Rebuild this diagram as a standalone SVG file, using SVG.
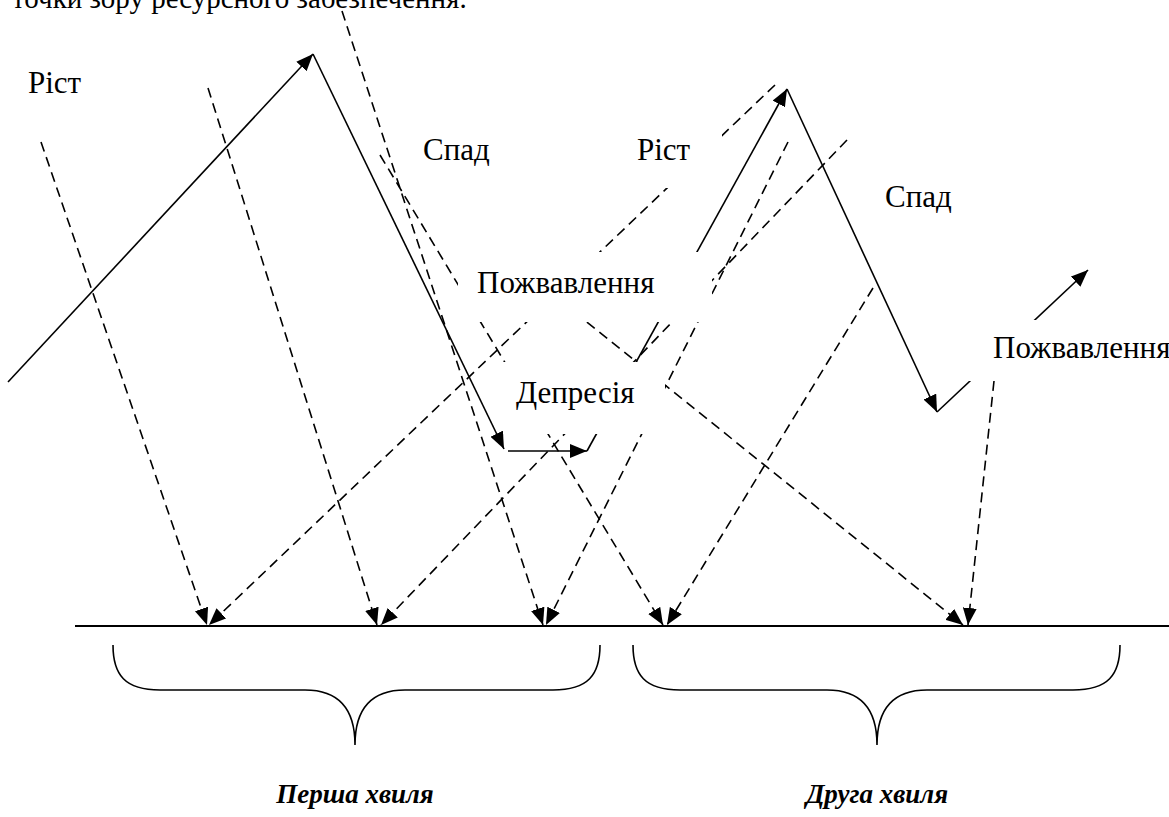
<svg xmlns="http://www.w3.org/2000/svg" width="1169" height="817" viewBox="0 0 1169 817">
<defs>
<style>
.t{font-family:"Liberation Serif","Times New Roman","DejaVu Serif",serif;font-size:31px;fill:#000}
.h{font-family:"Liberation Serif","Times New Roman","DejaVu Serif",serif;font-size:29px;fill:#000}
.b{font-family:"Liberation Serif","Times New Roman","DejaVu Serif",serif;font-size:27px;font-weight:bold;font-style:italic;fill:#000}
.s{fill:none;stroke:#000;stroke-width:1.6}
.d{fill:none;stroke:#000;stroke-width:1.6;stroke-dasharray:10 6}
.ax{fill:none;stroke:#000;stroke-width:2.2}
</style>
<marker id="ah" markerUnits="userSpaceOnUse" markerWidth="18" markerHeight="14" refX="17" refY="7" orient="auto">
<path d="M0,0 L17,7 L0,14 z" fill="#000" stroke="none"/>
</marker>
<mask id="m" maskUnits="userSpaceOnUse" x="0" y="0" width="1169" height="817">
<rect x="0" y="0" width="1169" height="817" fill="#fff"/>
<rect x="625" y="118" width="97" height="70" fill="#000"/>
<rect x="458" y="252" width="254" height="70" fill="#000"/>
<rect x="503" y="362" width="162" height="72" fill="#000"/>
<rect x="962" y="320" width="207" height="61" fill="#000"/>
</mask>
</defs>
<rect width="1169" height="817" fill="#fff"/>
<text class="h" x="12" y="8">точки зору ресурсного забезпечення.</text>
<g id="connectors" mask="url(#m)">
<path class="s" d="M8,382 L313,54" marker-end="url(#ah)"/>
<path class="s" d="M313,54 L504,449" marker-end="url(#ah)"/>
<path class="s" d="M508,451 L587,451" marker-end="url(#ah)"/>
<path class="s" d="M587,451 L787,89" marker-end="url(#ah)"/>
<path class="s" d="M787,89 L937,412" marker-end="url(#ah)"/>
<path class="s" d="M937,412 L1088,270" marker-end="url(#ah)"/>
<path class="d" d="M41,142 L207,625" marker-end="url(#ah)"/>
<path class="d" d="M775,85 L209,625" marker-end="url(#ah)"/>
<path class="d" d="M208,88 L377,625" marker-end="url(#ah)"/>
<path class="d" d="M847,140 L381,625" marker-end="url(#ah)"/>
<path class="d" d="M342,11 L543,625" marker-end="url(#ah)"/>
<path class="d" d="M788,142 L546,625" marker-end="url(#ah)"/>
<path class="d" d="M380,155 L663,625" marker-end="url(#ah)"/>
<path class="d" d="M873,288 L667,625" marker-end="url(#ah)"/>
<path class="d" d="M562,302 L963,625" marker-end="url(#ah)"/>
<path class="d" d="M994,381 L968,625" marker-end="url(#ah)"/>
<path class="ax" d="M75,626 L1169,626"/>
<path class="s" d="M113,645 C113,675 125,690 160,690 L305,690 C335,690 355,705 355,745 C355,705 375,690 405,690 L553,690 C588,690 600,675 600,645"/>
<path class="s" d="M633,645 C633,675 645,690 680,690 L827,690 C857,690 877,705 877,745 C877,705 897,690 927,690 L1073,690 C1108,690 1120,675 1120,645"/>
</g>
<g id="n-rist1"><text class="t" x="28" y="93">Ріст</text></g>
<g id="n-spad1"><text class="t" x="423" y="160">Спад</text></g>
<g id="n-rist2"><text class="t" x="637" y="160">Ріст</text></g>
<g id="n-spad2"><text class="t" x="885" y="207">Спад</text></g>
<g id="n-pozh1"><text class="t" x="477" y="293">Пожвавлення</text></g>
<g id="n-depr"><text class="t" x="516" y="403">Депресія</text></g>
<g id="n-pozh2"><text class="t" x="993" y="358">Пожвавлення</text></g>
<g id="n-wave1"><text class="b" x="355" y="803" text-anchor="middle">Перша хвиля</text></g>
<g id="n-wave2"><text class="b" x="877" y="803" text-anchor="middle">Друга хвиля</text></g>
</svg>
